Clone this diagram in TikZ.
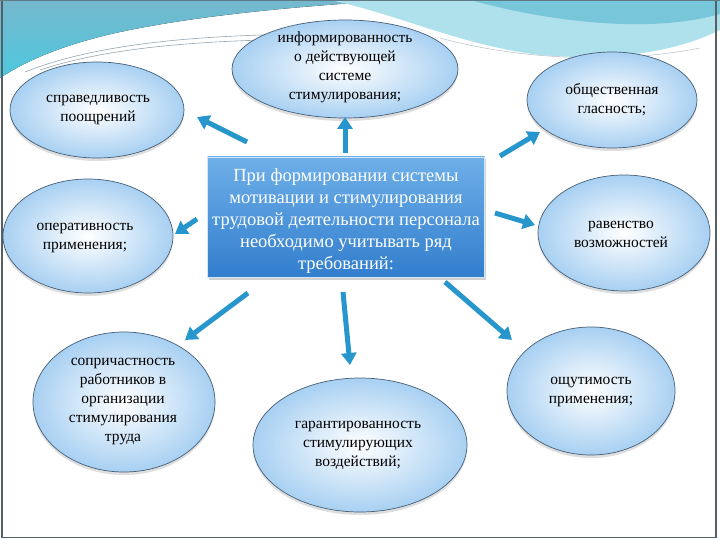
\documentclass[tikz,border=0pt]{standalone}
\usepackage{fontspec}
\setmainfont{Liberation Serif}
\newfontfamily\rusfont{Liberation Serif}
\usetikzlibrary{shapes.geometric,arrows.meta,shadows}
\definecolor{arrowblue}{RGB}{38,150,205}
\definecolor{ellborder}{RGB}{70,95,120}
\definecolor{ellfill}{RGB}{168,208,242}
\definecolor{boxtop}{RGB}{110,175,232}
\definecolor{boxbot}{RGB}{50,126,205}
\definecolor{tealA}{RGB}{118,184,205}
\definecolor{tealB}{RGB}{78,200,222}
\definecolor{tealC}{RGB}{175,225,236}
\definecolor{tealD}{RGB}{120,198,218}
\definecolor{framegray}{RGB}{85,95,100}
\definecolor{swoosh}{RGB}{150,165,175}
\begin{document}
\begin{tikzpicture}[x=1pt,y=-1pt,
  ell/.style={ellipse, draw=ellborder, line width=0.7pt, inner sep=0pt,
    inner color=white, outer color=ellfill,
    drop shadow={opacity=0.18, shadow xshift=0pt, shadow yshift=-3pt, fill=black!70}},
  etext/.style={align=center, font=\rusfont\fontsize{15.5}{19}\selectfont, text=black, inner sep=0pt},
  centerbox/.style={rectangle, draw=white!70!boxtop, line width=0.6pt, top color=boxtop, bottom color=boxbot,
    minimum width=277pt, minimum height=120pt, inner sep=0pt,
    drop shadow={opacity=0.3, shadow xshift=1.5pt, shadow yshift=-2.5pt, fill=black!60}},
  ctext/.style={align=center, font=\rusfont\fontsize{18.5}{22}\selectfont, text=white, inner sep=0pt},
  blarrow/.style={draw=arrowblue, line width=5pt, -{Triangle[width=15pt,length=12pt]}, arrowblue}
]
\useasboundingbox (0,0) rectangle (720,540);
\fill[white] (0,0) rectangle (720,540);
% top decoration
\fill[top color=tealA, bottom color=tealB] (0,0) -- (400,0) .. controls (300,6) and (200,15) .. (120,32) .. controls (70,43) and (30,58) .. (0,78) -- cycle;
\fill[tealC] (330,0) .. controls (400,15) and (460,45) .. (540,55) .. controls (620,62) and (680,50) .. (720,30) -- (720,0) -- cycle;
\fill[tealD] (470,0) .. controls (550,22) and (650,34) .. (720,14) -- (720,0) -- cycle;
\draw[swoosh, line width=0.6pt] (25,72) .. controls (100,42) and (210,34) .. (330,34);
\draw[swoosh, line width=0.6pt] (40,70) .. controls (115,45) and (220,39) .. (340,39);
\draw[swoosh!70, line width=0.5pt] (440,38) .. controls (520,60) and (620,64) .. (700,48);
% frame
\draw[framegray, line width=1.5pt] (2,0) -- (2,537.5) -- (716,537.5) -- (716,0);
\draw[framegray!70!tealA, line width=1.5pt] (0,0.75) -- (720,0.75);

% ellipses
\node[ell, minimum width=174pt, minimum height=96pt] (e1) at (97,110) {};
\node[ell, minimum width=226pt, minimum height=98pt] (e2) at (345,69) {};
\node[ell, minimum width=170pt, minimum height=96pt] (e3) at (612,100) {};
\node[ell, minimum width=170pt, minimum height=114pt] (e4) at (88,236) {};
\node[ell, minimum width=172pt, minimum height=116pt] (e5) at (624,233) {};
\node[ell, minimum width=182pt, minimum height=140pt] (e6) at (124,402) {};
\node[ell, minimum width=214pt, minimum height=134pt] (e7) at (360,445) {};
\node[ell, minimum width=168pt, minimum height=128pt] (e8) at (591,391) {};

\node[etext] (t1) at ([xshift=1pt]e1.center) {справедливость\\поощрений};
\node[etext] (t2) at ([yshift=2pt]e2.center) {информированность\\о действующей\\системе\\стимулирования;};
\node[etext] (t3) at (e3.center) {общественная\\гласность;};
\node[etext] (t4) at ([xshift=-3pt,yshift=-2pt]e4.center) {оперативность\\применения;};
\node[etext] (t5) at ([xshift=-3pt,yshift=-1pt]e5.center) {равенство\\возможностей};
\node[etext] (t6) at ([xshift=-1pt]e6.center) {сопричастность\\работников в\\организации\\стимулирования\\труда};
\node[etext] (t7) at ([xshift=-2pt]e7.center) {гарантированность\\стимулирующих\\воздействий;};
\node[etext] (t8) at ([yshift=-1pt]e8.center) {ощутимость\\применения;};

% center box
\node[centerbox] (c) at (346,217) {};
\node[ctext] (ct) at ([yshift=-4pt]c.center) {При формировании системы\\мотивации и стимулирования\\трудовой деятельности персонала\\необходимо учитывать ряд\\требований:};

% arrows
\coordinate (a1s) at (247,142); \coordinate (a1e) at (197,117);
\coordinate (a2s) at (345,153); \coordinate (a2e) at (345,117);
\coordinate (a3s) at (500,156); \coordinate (a3e) at (540,132);
\coordinate (a4s) at (197,219); \coordinate (a4e) at (175,234);
\coordinate (a5s) at (495,213); \coordinate (a5e) at (535,225);
\coordinate (a6s) at (248,293); \coordinate (a6e) at (185,340);
\coordinate (a7s) at (343,292); \coordinate (a7e) at (350,365);
\coordinate (a8s) at (445,282); \coordinate (a8e) at (512,340);
\foreach \i in {1,...,8} { \draw[blarrow] (a\i s) -- (a\i e); }
\end{tikzpicture}
\end{document}
